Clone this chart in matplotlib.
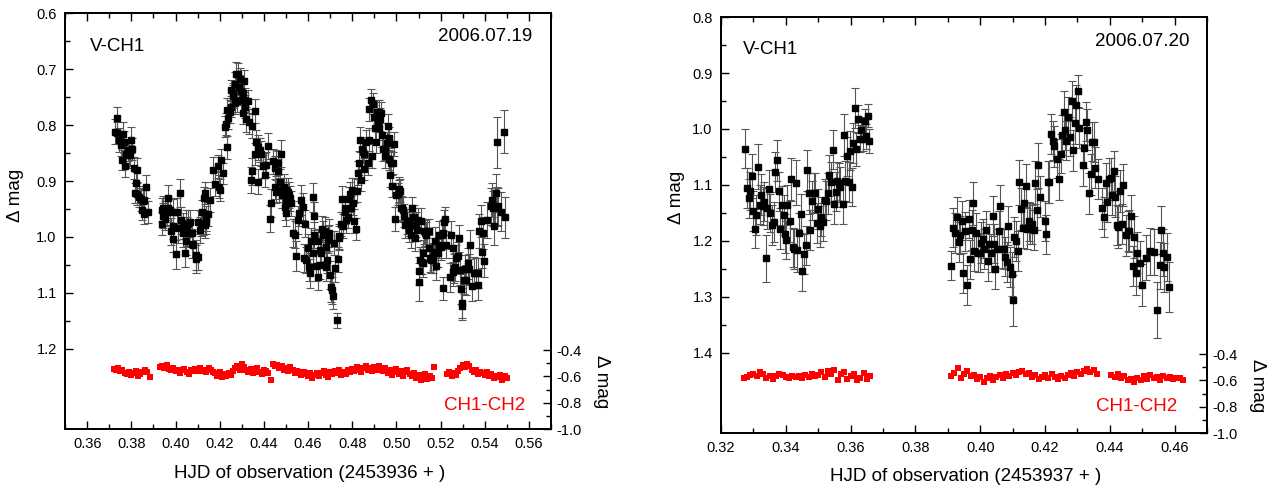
"""Two-night V-CH1 light curves with CH1-CH2 check-star differential."""

import matplotlib

matplotlib.use("Agg")

import matplotlib.pyplot as plt
import numpy as np
from matplotlib.ticker import FixedLocator, FormatStrFormatter, MultipleLocator

plt.rcParams["font.family"] = ["Liberation Sans", "DejaVu Sans"]

# ── Night 1: 2006.07.19, (HJD - 2453936, V-CH1, error) ───────────────────────
day1_var = [
    (0.3737, 0.788, 0.020), (0.3726, 0.812, 0.022), (0.3734, 0.814, 0.020), (0.3745, 0.827, 0.021),
    (0.3752, 0.836, 0.019), (0.3761, 0.816, 0.022), (0.3767, 0.830, 0.020), (0.3757, 0.862, 0.018),
    (0.3772, 0.874, 0.019), (0.3776, 0.851, 0.021), (0.3784, 0.845, 0.020), (0.3791, 0.854, 0.022),
    (0.3797, 0.827, 0.023), (0.3802, 0.843, 0.020), (0.3794, 0.854, 0.019), (0.3812, 0.877, 0.020),
    (0.3824, 0.880, 0.021), (0.3821, 0.903, 0.019), (0.3865, 0.910, 0.020), (0.3817, 0.922, 0.018),
    (0.3827, 0.923, 0.020), (0.3836, 0.928, 0.019), (0.3842, 0.933, 0.021), (0.3851, 0.935, 0.020),
    (0.3859, 0.934, 0.018), (0.3850, 0.951, 0.019), (0.3874, 0.955, 0.020), (0.3857, 0.959, 0.018),
    (0.3967, 0.930, 0.022), (0.4020, 0.922, 0.025), (0.3937, 0.951, 0.021), (0.3945, 0.949, 0.023),
    (0.3952, 0.958, 0.022), (0.3960, 0.955, 0.024), (0.3967, 0.949, 0.021), (0.3975, 0.952, 0.022),
    (0.3990, 0.956, 0.023), (0.4005, 0.955, 0.024), (0.3942, 0.962, 0.022), (0.3952, 0.967, 0.021),
    (0.3937, 0.976, 0.020), (0.3987, 0.980, 0.023), (0.3979, 0.990, 0.024), (0.4012, 0.984, 0.026),
    (0.4027, 0.970, 0.024), (0.4035, 0.980, 0.023), (0.4047, 0.976, 0.025), (0.4058, 0.976, 0.024),
    (0.4065, 0.974, 0.022), (0.4053, 0.990, 0.026), (0.4073, 0.993, 0.024), (0.4062, 0.993, 0.025),
    (0.4032, 0.993, 0.024), (0.3990, 1.004, 0.022), (0.4046, 1.007, 0.025), (0.4073, 1.012, 0.026),
    (0.4080, 1.014, 0.024), (0.4002, 1.031, 0.026), (0.4042, 1.028, 0.025), (0.4095, 1.032, 0.027),
    (0.4091, 1.040, 0.025), (0.4100, 1.035, 0.024), (0.4110, 0.987, 0.023), (0.4118, 0.956, 0.022),
    (0.4125, 0.976, 0.021), (0.4133, 0.978, 0.023), (0.4140, 0.967, 0.022), (0.4137, 0.974, 0.020),
    (0.4148, 0.959, 0.021), (0.4104, 0.973, 0.022), (0.4115, 0.976, 0.023),
    (0.4128, 0.931, 0.021), (0.4133, 0.921, 0.020), (0.4155, 0.934, 0.022), (0.4178, 0.905, 0.021),
    (0.4170, 0.880, 0.022), (0.4200, 0.916, 0.020), (0.4193, 0.874, 0.021), (0.4208, 0.862, 0.020),
    (0.4216, 0.886, 0.019), (0.4198, 0.910, 0.021), (0.4231, 0.840, 0.020), (0.4223, 0.803, 0.019),
    (0.4228, 0.798, 0.020), (0.4238, 0.788, 0.019), (0.4235, 0.773, 0.021), (0.4246, 0.776, 0.020),
    (0.4249, 0.767, 0.019), (0.4258, 0.749, 0.020), (0.4253, 0.738, 0.019), (0.4268, 0.726, 0.020),
    (0.4261, 0.743, 0.018), (0.4276, 0.708, 0.020), (0.4283, 0.708, 0.019), (0.4288, 0.732, 0.021),
    (0.4291, 0.718, 0.020), (0.4298, 0.740, 0.019), (0.4306, 0.743, 0.021), (0.4309, 0.721, 0.020),
    (0.4313, 0.755, 0.022), (0.4316, 0.767, 0.020), (0.4328, 0.758, 0.021), (0.4321, 0.790, 0.023),
    (0.4333, 0.794, 0.022), (0.4348, 0.802, 0.021), (0.4306, 0.779, 0.020), (0.4280, 0.758, 0.019),
    (0.4268, 0.761, 0.020), (0.4295, 0.755, 0.021), (0.4359, 0.775, 0.022),
    (0.4366, 0.830, 0.021), (0.4374, 0.840, 0.022), (0.4359, 0.852, 0.020), (0.4381, 0.845, 0.021),
    (0.4389, 0.851, 0.022), (0.4404, 0.871, 0.021), (0.4396, 0.874, 0.020), (0.4411, 0.871, 0.022),
    (0.4419, 0.837, 0.023), (0.4407, 0.889, 0.021), (0.4375, 0.901, 0.022), (0.4344, 0.883, 0.024),
    (0.4341, 0.898, 0.023), (0.4441, 0.865, 0.022), (0.4449, 0.876, 0.021), (0.4456, 0.868, 0.023),
    (0.4464, 0.868, 0.022), (0.4479, 0.851, 0.024), (0.4449, 0.910, 0.022), (0.4456, 0.919, 0.021),
    (0.4471, 0.901, 0.023), (0.4464, 0.883, 0.022), (0.4468, 0.916, 0.021), (0.4483, 0.925, 0.024),
    (0.4490, 0.910, 0.023), (0.4502, 0.916, 0.022), (0.4509, 0.919, 0.024), (0.4514, 0.925, 0.023),
    (0.4517, 0.931, 0.022), (0.4494, 0.946, 0.024), (0.4499, 0.958, 0.023), (0.4524, 0.940, 0.022),
    (0.4502, 0.937, 0.021), (0.4434, 0.940, 0.025), (0.4429, 0.967, 0.024), (0.4554, 0.970, 0.025),
    (0.4569, 0.934, 0.026), (0.4577, 0.946, 0.024), (0.4559, 0.958, 0.023), (0.4584, 0.976, 0.024),
    (0.4532, 0.992, 0.025), (0.4539, 0.996, 0.024), (0.4547, 1.034, 0.026), (0.4580, 1.038, 0.025),
    (0.4592, 1.041, 0.024), (0.4599, 1.020, 0.026), (0.4604, 1.053, 0.025), (0.4607, 1.065, 0.026),
    (0.4622, 0.929, 0.026), (0.4629, 0.962, 0.025), (0.4614, 1.008, 0.024), (0.4629, 0.996, 0.023),
    (0.4622, 1.029, 0.025), (0.4637, 1.052, 0.026), (0.4645, 1.071, 0.024), (0.4652, 1.050, 0.025),
    (0.4660, 1.029, 0.024), (0.4645, 1.008, 0.023), (0.4667, 0.996, 0.024), (0.4675, 0.990, 0.025),
    (0.4664, 0.986, 0.023), (0.4655, 1.023, 0.024), (0.4682, 1.017, 0.025), (0.4685, 1.041, 0.024),
    (0.4679, 1.053, 0.026), (0.4690, 1.005, 0.024), (0.4697, 1.002, 0.023), (0.4694, 0.993, 0.025),
    (0.4700, 1.068, 0.025), (0.4709, 1.095, 0.024), (0.4705, 1.090, 0.026), (0.4712, 1.105, 0.024),
    (0.4717, 1.011, 0.022), (0.4724, 1.056, 0.024), (0.4735, 1.040, 0.023), (0.4730, 1.149, 0.014),
    (0.4742, 0.999, 0.022), (0.4739, 1.002, 0.021),
    (0.4750, 0.977, 0.022), (0.4757, 0.980, 0.021), (0.4754, 0.932, 0.023), (0.4765, 0.949, 0.022),
    (0.4769, 0.955, 0.021), (0.4772, 0.970, 0.022), (0.4780, 0.964, 0.020), (0.4784, 0.933, 0.022),
    (0.4790, 0.923, 0.021), (0.4795, 0.949, 0.022), (0.4800, 0.916, 0.021), (0.4803, 0.940, 0.020),
    (0.4810, 0.917, 0.022), (0.4806, 0.971, 0.021), (0.4815, 0.986, 0.020), (0.4821, 0.917, 0.021),
    (0.4825, 0.886, 0.022), (0.4830, 0.868, 0.021), (0.4836, 0.826, 0.022), (0.4840, 0.898, 0.020),
    (0.4845, 0.843, 0.021), (0.4848, 0.848, 0.020), (0.4855, 0.851, 0.022), (0.4863, 0.830, 0.021),
    (0.4855, 0.879, 0.020), (0.4870, 0.868, 0.021), (0.4875, 0.826, 0.020), (0.4878, 0.772, 0.021),
    (0.4885, 0.755, 0.020), (0.4893, 0.762, 0.019), (0.4890, 0.855, 0.021), (0.4900, 0.785, 0.020),
    (0.4905, 0.805, 0.021), (0.4911, 0.776, 0.020), (0.4915, 0.794, 0.019), (0.4923, 0.776, 0.020),
    (0.4920, 0.806, 0.021), (0.4927, 0.790, 0.020), (0.4935, 0.818, 0.021), (0.4908, 0.830, 0.020),
    (0.4930, 0.778, 0.019), (0.4941, 0.843, 0.021), (0.4946, 0.856, 0.020), (0.4950, 0.842, 0.021),
    (0.4956, 0.833, 0.020), (0.4961, 0.802, 0.022), (0.4968, 0.824, 0.021), (0.4965, 0.861, 0.020),
    (0.4976, 0.867, 0.021), (0.4983, 0.868, 0.020), (0.4991, 0.834, 0.022), (0.4971, 0.889, 0.021),
    (0.4980, 0.909, 0.020), (0.4995, 0.968, 0.022),
    (0.4998, 0.925, 0.021), (0.5006, 0.923, 0.020), (0.5010, 0.915, 0.022), (0.5013, 0.919, 0.021),
    (0.5016, 0.917, 0.020), (0.5021, 0.949, 0.022), (0.5025, 0.949, 0.021), (0.5031, 0.951, 0.022),
    (0.5036, 0.962, 0.021), (0.5040, 0.978, 0.023), (0.5046, 0.972, 0.022), (0.5055, 0.977, 0.021),
    (0.5058, 0.987, 0.022), (0.5066, 0.996, 0.023), (0.5070, 0.949, 0.021), (0.5073, 0.964, 0.022),
    (0.5081, 0.964, 0.021), (0.5085, 1.002, 0.023), (0.5088, 0.978, 0.022), (0.5092, 0.987, 0.021),
    (0.5096, 0.970, 0.022), (0.5100, 1.060, 0.025), (0.5104, 1.080, 0.034), (0.5107, 1.041, 0.024),
    (0.5111, 0.971, 0.022), (0.5116, 1.044, 0.023), (0.5119, 1.047, 0.024), (0.5122, 1.029, 0.023),
    (0.5126, 0.990, 0.022), (0.5131, 0.993, 0.023), (0.5134, 0.996, 0.022), (0.5138, 0.990, 0.023),
    (0.5146, 1.020, 0.024), (0.5149, 0.990, 0.023), (0.5152, 1.038, 0.024), (0.5156, 1.041, 0.023),
    (0.5164, 1.035, 0.024), (0.5167, 1.041, 0.023), (0.5171, 1.026, 0.024), (0.5176, 1.008, 0.025),
    (0.5179, 1.052, 0.024), (0.5186, 1.029, 0.025), (0.5191, 0.996, 0.024), (0.5194, 1.014, 0.023),
    (0.5201, 1.017, 0.024), (0.5206, 0.996, 0.025), (0.5209, 1.092, 0.020), (0.5212, 0.993, 0.024),
    (0.5216, 0.974, 0.023), (0.5221, 0.968, 0.022), (0.5224, 1.014, 0.024),
    (0.5242, 1.072, 0.026), (0.5247, 0.996, 0.025), (0.5254, 1.020, 0.024), (0.5257, 1.062, 0.025),
    (0.5262, 1.056, 0.026), (0.5266, 1.053, 0.025), (0.5269, 1.038, 0.024), (0.5277, 1.034, 0.025),
    (0.5281, 1.002, 0.024), (0.5287, 1.059, 0.026), (0.5292, 1.093, 0.027), (0.5295, 1.124, 0.025),
    (0.5299, 1.118, 0.026), (0.5307, 1.077, 0.025), (0.5311, 1.058, 0.026), (0.5317, 1.077, 0.027),
    (0.5322, 1.047, 0.028), (0.5329, 1.058, 0.027), (0.5334, 1.014, 0.026), (0.5344, 1.088, 0.027),
    (0.5352, 1.064, 0.028), (0.5359, 1.064, 0.027), (0.5367, 1.085, 0.028), (0.5371, 1.064, 0.027),
    (0.5374, 0.989, 0.030), (0.5382, 0.971, 0.029), (0.5386, 1.026, 0.030), (0.5392, 0.993, 0.029),
    (0.5397, 1.042, 0.030),
    (0.5412, 0.970, 0.032), (0.5432, 0.934, 0.031), (0.5427, 0.945, 0.033), (0.5435, 0.949, 0.032),
    (0.5442, 0.980, 0.034), (0.5447, 0.945, 0.033), (0.5450, 0.922, 0.034), (0.5457, 0.946, 0.035),
    (0.5462, 0.945, 0.033), (0.5472, 0.955, 0.035), (0.5457, 0.831, 0.046), (0.5486, 0.812, 0.038),
    (0.5492, 0.965, 0.036),
]

# (HJD - 2453936, CH1-CH2)
day1_cmp = [
    (0.3720, -0.545), (0.3730, -0.552), (0.3740, -0.538), (0.3750, -0.560), (0.3760, -0.548),
    (0.3770, -0.572), (0.3780, -0.585), (0.3790, -0.565), (0.3800, -0.590), (0.3810, -0.575),
    (0.3820, -0.558), (0.3830, -0.595), (0.3840, -0.580), (0.3850, -0.565), (0.3860, -0.550),
    (0.3870, -0.570), (0.3885, -0.605),
    (0.393, -0.530), (0.394, -0.520), (0.395, -0.538), (0.396, -0.515), (0.397, -0.545),
    (0.398, -0.552), (0.399, -0.540), (0.400, -0.560), (0.401, -0.548), (0.402, -0.572),
    (0.403, -0.555), (0.404, -0.541), (0.405, -0.566), (0.406, -0.580), (0.407, -0.550),
    (0.408, -0.562), (0.409, -0.545), (0.410, -0.556), (0.411, -0.535), (0.412, -0.560),
    (0.413, -0.548), (0.414, -0.570), (0.415, -0.540), (0.416, -0.552), (0.417, -0.565),
    (0.418, -0.578), (0.419, -0.595), (0.420, -0.570), (0.421, -0.602), (0.422, -0.585),
    (0.423, -0.596), (0.424, -0.572), (0.425, -0.588), (0.426, -0.560), (0.427, -0.540),
    (0.428, -0.525), (0.429, -0.548), (0.430, -0.505), (0.431, -0.530), (0.432, -0.552),
    (0.433, -0.568), (0.434, -0.545), (0.435, -0.575), (0.436, -0.558), (0.437, -0.540),
    (0.438, -0.566), (0.439, -0.580), (0.440, -0.552), (0.441, -0.560), (0.442, -0.575),
    (0.443, -0.628), (0.444, -0.505), (0.445, -0.520), (0.446, -0.512), (0.447, -0.538),
    (0.448, -0.525), (0.449, -0.555), (0.450, -0.540), (0.451, -0.562), (0.452, -0.530),
    (0.453, -0.548), (0.454, -0.575), (0.455, -0.556), (0.456, -0.570), (0.457, -0.590),
    (0.458, -0.565), (0.459, -0.585), (0.460, -0.600), (0.461, -0.572), (0.462, -0.610),
    (0.463, -0.590), (0.464, -0.578), (0.465, -0.598), (0.466, -0.575), (0.467, -0.560),
    (0.468, -0.590), (0.469, -0.605), (0.470, -0.570), (0.471, -0.585), (0.472, -0.558),
    (0.473, -0.575), (0.474, -0.548), (0.475, -0.590), (0.476, -0.565), (0.477, -0.580),
    (0.478, -0.552), (0.479, -0.570), (0.480, -0.545), (0.481, -0.560), (0.482, -0.530),
    (0.483, -0.552), (0.484, -0.570), (0.485, -0.540), (0.486, -0.525), (0.487, -0.555),
    (0.488, -0.538), (0.489, -0.562), (0.490, -0.530), (0.491, -0.548), (0.492, -0.520),
    (0.493, -0.545), (0.494, -0.560), (0.495, -0.535), (0.496, -0.575), (0.497, -0.550),
    (0.498, -0.590), (0.499, -0.565), (0.500, -0.545), (0.501, -0.580), (0.502, -0.560),
    (0.503, -0.595), (0.504, -0.570), (0.505, -0.548), (0.506, -0.585), (0.507, -0.600),
    (0.508, -0.575), (0.509, -0.615), (0.510, -0.590), (0.511, -0.630), (0.512, -0.605),
    (0.513, -0.580), (0.514, -0.620), (0.515, -0.595), (0.516, -0.610), (0.517, -0.530),
    (0.523, -0.580), (0.524, -0.565), (0.525, -0.595), (0.526, -0.572), (0.527, -0.588),
    (0.528, -0.560), (0.529, -0.540), (0.530, -0.515), (0.531, -0.530), (0.532, -0.505),
    (0.533, -0.525), (0.534, -0.548), (0.535, -0.570), (0.536, -0.555), (0.537, -0.585),
    (0.538, -0.565), (0.539, -0.578), (0.540, -0.590), (0.541, -0.570), (0.542, -0.600),
    (0.543, -0.582), (0.544, -0.615), (0.545, -0.595), (0.546, -0.605), (0.547, -0.588),
    (0.548, -0.625), (0.549, -0.600), (0.550, -0.612),
]

# ── Night 2: 2006.07.20, (HJD - 2453937, V-CH1, error) ───────────────────────
day2_var = [
    (0.3274, 1.035, 0.035), (0.3280, 1.106, 0.036), (0.3285, 1.124, 0.035), (0.3290, 1.111, 0.034),
    (0.3295, 1.084, 0.040), (0.3300, 1.146, 0.036), (0.3305, 1.178, 0.035), (0.3308, 1.153, 0.036),
    (0.3314, 1.067, 0.040), (0.3319, 1.135, 0.035), (0.3324, 1.117, 0.036), (0.3328, 1.138, 0.034),
    (0.3333, 1.130, 0.035), (0.3339, 1.231, 0.042), (0.3341, 1.142, 0.036), (0.3347, 1.108, 0.035),
    (0.3352, 1.150, 0.034), (0.3357, 1.171, 0.036), (0.3362, 1.166, 0.035), (0.3367, 1.077, 0.036),
    (0.3372, 1.056, 0.037), (0.3378, 1.111, 0.035), (0.3383, 1.178, 0.036), (0.3388, 1.136, 0.035),
    (0.3393, 1.154, 0.036), (0.3398, 1.187, 0.035), (0.3401, 1.199, 0.034), (0.3405, 1.136, 0.036),
    (0.3412, 1.164, 0.037), (0.3417, 1.090, 0.038), (0.3422, 1.211, 0.035), (0.3426, 1.214, 0.036),
    (0.3431, 1.096, 0.040), (0.3434, 1.217, 0.038), (0.3442, 1.186, 0.036), (0.3447, 1.151, 0.035),
    (0.3450, 1.254, 0.035), (0.3457, 1.223, 0.036), (0.3461, 1.208, 0.035), (0.3466, 1.074, 0.036),
    (0.3471, 1.115, 0.037), (0.3476, 1.180, 0.036), (0.3481, 1.128, 0.035), (0.3486, 1.114, 0.036),
    (0.3491, 1.114, 0.035), (0.3496, 1.168, 0.036), (0.3500, 1.143, 0.035), (0.3504, 1.174, 0.036),
    (0.3510, 1.157, 0.035), (0.3515, 1.166, 0.034), (0.3520, 1.126, 0.036), (0.3524, 1.128, 0.035),
    (0.3530, 1.115, 0.036), (0.3534, 1.083, 0.037), (0.3540, 1.095, 0.036), (0.3545, 1.037, 0.035),
    (0.3550, 1.134, 0.036), (0.3555, 1.112, 0.035), (0.3558, 1.093, 0.034), (0.3563, 1.096, 0.035),
    (0.3568, 1.104, 0.036), (0.3575, 1.134, 0.035), (0.3579, 1.011, 0.037), (0.3584, 1.093, 0.036),
    (0.3589, 1.049, 0.035), (0.3594, 1.095, 0.036), (0.3599, 1.039, 0.035), (0.3604, 1.104, 0.034),
    (0.3608, 1.025, 0.035), (0.3613, 0.962, 0.036), (0.3618, 1.036, 0.030), (0.3623, 0.982, 0.025),
    (0.3628, 1.017, 0.024), (0.3632, 1.001, 0.023), (0.3638, 1.017, 0.022), (0.3643, 0.986, 0.021),
    (0.3648, 1.013, 0.022), (0.3652, 0.976, 0.020), (0.3657, 1.021, 0.021),
    (0.3909, 1.244, 0.026), (0.3917, 1.176, 0.035), (0.3921, 1.186, 0.036), (0.3928, 1.157, 0.035),
    (0.3933, 1.202, 0.036), (0.3938, 1.190, 0.034), (0.3943, 1.164, 0.035), (0.3947, 1.257, 0.036),
    (0.3953, 1.183, 0.035), (0.3958, 1.279, 0.036), (0.3964, 1.160, 0.034), (0.3968, 1.233, 0.035),
    (0.3973, 1.180, 0.036), (0.3978, 1.133, 0.038), (0.3982, 1.218, 0.035), (0.3988, 1.186, 0.036),
    (0.3994, 1.221, 0.035), (0.3998, 1.221, 0.034), (0.4002, 1.203, 0.036), (0.4007, 1.196, 0.035),
    (0.4012, 1.214, 0.036), (0.4017, 1.181, 0.035), (0.4023, 1.236, 0.036), (0.4028, 1.205, 0.035),
    (0.4032, 1.222, 0.034), (0.4038, 1.156, 0.036), (0.4041, 1.205, 0.035), (0.4046, 1.250, 0.036),
    (0.4051, 1.214, 0.035), (0.4057, 1.182, 0.036), (0.4062, 1.138, 0.038), (0.4066, 1.214, 0.035),
    (0.4072, 1.214, 0.036), (0.4076, 1.228, 0.035), (0.4081, 1.237, 0.036), (0.4086, 1.173, 0.035),
    (0.4092, 1.246, 0.036), (0.4097, 1.259, 0.040), (0.4101, 1.306, 0.045), (0.4105, 1.193, 0.036),
    (0.4110, 1.200, 0.035), (0.4116, 1.218, 0.036), (0.4121, 1.095, 0.040), (0.4126, 1.143, 0.038),
    (0.4131, 1.177, 0.036), (0.4135, 1.133, 0.037), (0.4140, 1.101, 0.038), (0.4144, 1.178, 0.036),
    (0.4149, 1.165, 0.035), (0.4155, 1.169, 0.036), (0.4160, 1.170, 0.035), (0.4165, 1.180, 0.036),
    (0.4170, 1.096, 0.038), (0.4174, 1.144, 0.036), (0.4179, 1.065, 0.040), (0.4185, 1.121, 0.037),
    (0.4199, 1.164, 0.036), (0.4203, 1.188, 0.035), (0.4208, 1.095, 0.038), (0.4212, 1.095, 0.037),
    (0.4218, 1.009, 0.036), (0.4223, 1.021, 0.035), (0.4228, 1.031, 0.036), (0.4237, 1.053, 0.035),
    (0.4242, 1.090, 0.036), (0.4248, 1.044, 0.035), (0.4253, 1.011, 0.036), (0.4257, 0.970, 0.037),
    (0.4261, 1.001, 0.036), (0.4266, 1.021, 0.035), (0.4271, 0.979, 0.036), (0.4276, 1.014, 0.035),
    (0.4282, 0.950, 0.036), (0.4286, 1.038, 0.037), (0.4291, 0.990, 0.036), (0.4296, 0.957, 0.035),
    (0.4301, 0.932, 0.028), (0.4306, 0.998, 0.036), (0.4317, 1.064, 0.037), (0.4321, 1.034, 0.036),
    (0.4325, 0.987, 0.035), (0.4330, 1.001, 0.036), (0.4335, 1.115, 0.037), (0.4341, 1.081, 0.036),
    (0.4346, 1.023, 0.035), (0.4350, 1.023, 0.036), (0.4355, 1.069, 0.037), (0.4364, 1.089, 0.036),
    (0.4377, 1.142, 0.037), (0.4382, 1.157, 0.036), (0.4387, 1.096, 0.035), (0.4392, 1.130, 0.036),
    (0.4397, 1.089, 0.037), (0.4402, 1.087, 0.036), (0.4407, 1.118, 0.035), (0.4412, 1.075, 0.036),
    (0.4416, 1.121, 0.037), (0.4422, 1.172, 0.036), (0.4426, 1.175, 0.038), (0.4431, 1.111, 0.037),
    (0.4436, 1.170, 0.036), (0.4442, 1.100, 0.038), (0.4451, 1.190, 0.037), (0.4456, 1.182, 0.036),
    (0.4460, 1.182, 0.037), (0.4465, 1.155, 0.038), (0.4470, 1.245, 0.036), (0.4476, 1.193, 0.037),
    (0.4481, 1.258, 0.038), (0.4485, 1.221, 0.037), (0.4494, 1.240, 0.040), (0.4500, 1.279, 0.038),
    (0.4510, 1.230, 0.040), (0.4525, 1.218, 0.042), (0.4535, 1.219, 0.041), (0.4545, 1.324, 0.050),
    (0.4555, 1.243, 0.042), (0.4559, 1.180, 0.043), (0.4563, 1.221, 0.042), (0.4568, 1.247, 0.044),
    (0.4575, 1.228, 0.043), (0.4583, 1.282, 0.045),
]

# (HJD - 2453937, CH1-CH2)
day2_cmp = [
    (0.327, -0.585), (0.328, -0.575), (0.329, -0.560), (0.330, -0.548), (0.331, -0.570),
    (0.332, -0.540), (0.333, -0.555), (0.334, -0.580), (0.335, -0.565), (0.336, -0.590),
    (0.337, -0.570), (0.338, -0.548), (0.339, -0.560), (0.340, -0.575), (0.341, -0.582),
    (0.342, -0.565), (0.343, -0.578), (0.344, -0.570), (0.345, -0.585), (0.346, -0.560),
    (0.347, -0.575), (0.348, -0.550), (0.349, -0.568), (0.350, -0.560), (0.351, -0.540),
    (0.352, -0.572), (0.353, -0.530), (0.354, -0.555), (0.355, -0.525), (0.356, -0.600),
    (0.357, -0.548), (0.358, -0.535), (0.359, -0.590), (0.360, -0.570), (0.361, -0.555),
    (0.362, -0.600), (0.363, -0.580), (0.364, -0.545), (0.365, -0.590), (0.366, -0.565),
    (0.391, -0.565), (0.392, -0.545), (0.393, -0.505), (0.394, -0.580), (0.395, -0.555),
    (0.396, -0.530), (0.397, -0.570), (0.398, -0.560), (0.399, -0.590), (0.400, -0.575),
    (0.401, -0.612), (0.402, -0.585), (0.403, -0.565), (0.404, -0.595), (0.405, -0.578),
    (0.406, -0.560), (0.407, -0.585), (0.408, -0.550), (0.409, -0.570), (0.410, -0.545),
    (0.411, -0.562), (0.412, -0.540), (0.413, -0.530), (0.414, -0.555), (0.415, -0.545),
    (0.416, -0.575), (0.417, -0.560), (0.418, -0.590), (0.419, -0.575), (0.420, -0.560),
    (0.421, -0.585), (0.422, -0.550), (0.423, -0.575), (0.424, -0.590), (0.425, -0.565),
    (0.426, -0.580), (0.427, -0.560), (0.428, -0.545), (0.429, -0.570), (0.430, -0.540),
    (0.431, -0.555), (0.432, -0.530), (0.433, -0.510), (0.434, -0.535), (0.435, -0.520),
    (0.436, -0.550),
    (0.4405, -0.560), (0.4415, -0.575), (0.4425, -0.555), (0.4435, -0.585), (0.4445, -0.570),
    (0.4455, -0.600), (0.4465, -0.590), (0.4475, -0.615), (0.4485, -0.580), (0.4495, -0.600),
    (0.4505, -0.570), (0.4515, -0.590), (0.4525, -0.560), (0.4535, -0.585), (0.4545, -0.575),
    (0.4555, -0.595), (0.4565, -0.570), (0.4575, -0.585), (0.4585, -0.575), (0.4595, -0.590),
    (0.4605, -0.580), (0.4615, -0.585), (0.4625, -0.600),
]

dates = ["2006.07.19", "2006.07.20"]
hjd_zero = ["2453936", "2453937"]
x_limits = [(0.35, 0.57), (0.32, 0.47)]
y_limits = [(1.343, 0.6), (1.543, 0.8)]
y_ticks = [[0.6, 0.7, 0.8, 0.9, 1.0, 1.1, 1.2], [0.8, 0.9, 1.0, 1.1, 1.2, 1.3, 1.4]]
cmp_ticks = [-1.0, -0.8, -0.6, -0.4]
cmp_minor = [-0.9, -0.7, -0.5]

LABEL_SIZE = 13.5
TICK_SIZE = 10.5


def draw_panel(fig, rect, var, cmp, idx, lab_x, txt_pos):
    ax = fig.add_axes(rect)
    hjd, mag, err = np.array(var).T
    ax.errorbar(
        hjd, mag, yerr=err, fmt="s", ms=4.2, mfc="black", mec="black",
        ecolor="#555555", elinewidth=0.8, capsize=3, capthick=0.8, zorder=3,
    )
    ax.set_xlim(*x_limits[idx])
    ax.set_ylim(*y_limits[idx])
    ax.xaxis.set_major_locator(MultipleLocator(0.02))
    ax.xaxis.set_minor_locator(MultipleLocator(0.01))
    ax.xaxis.set_major_formatter(FormatStrFormatter("%.2f"))
    ticks = y_ticks[idx]
    ax.yaxis.set_major_locator(FixedLocator(ticks))
    ax.yaxis.set_minor_locator(FixedLocator([t + 0.05 for t in ticks[:-1]]))
    ax.yaxis.set_major_formatter(FormatStrFormatter("%.1f"))
    ax.tick_params(which="both", direction="in", top=True, right=False, width=1,
                   labelsize=TICK_SIZE, pad=6)
    ax.tick_params(which="major", length=6)
    ax.tick_params(which="minor", length=3.5)
    for sp in ax.spines.values():
        sp.set_linewidth(1.3)

    ax2 = ax.twinx()
    chjd, cmag = np.array(cmp).T
    ax2.plot(chjd, cmag, "s", color="#ff0000", ms=4.3, mew=0, zorder=2)
    ax2.set_ylim(-1.0, 2.16)
    ax2.yaxis.set_major_locator(FixedLocator(cmp_ticks))
    ax2.yaxis.set_minor_locator(FixedLocator(cmp_minor))
    ax2.yaxis.set_major_formatter(FormatStrFormatter("%.1f"))
    ax2.tick_params(which="both", direction="in", width=1, labelsize=TICK_SIZE, pad=4)
    ax2.tick_params(which="major", length=6)
    ax2.tick_params(which="minor", length=3.5)
    for sp in ax2.spines.values():
        sp.set_linewidth(1.3)

    (vx, vy), (dx, dy), (cx, cy), (lx, ly) = txt_pos
    ax.text(vx, vy, "V-CH1", transform=ax.transAxes, fontsize=LABEL_SIZE, ha="left", va="center")
    ax.text(dx, dy, dates[idx], transform=ax.transAxes, fontsize=LABEL_SIZE, ha="right", va="center")
    ax.text(cx, cy, "CH1-CH2", transform=ax.transAxes, fontsize=LABEL_SIZE, color="#ff0000",
            ha="right", va="center")
    ax.text(lx, ly, "Δ mag", transform=ax.transAxes, fontsize=LABEL_SIZE, rotation=90,
            ha="center", va="center")
    ax.text(1.103, 0.113, "Δ mag", transform=ax.transAxes, fontsize=LABEL_SIZE, rotation=270,
            ha="center", va="center")
    ax.text(0.504, lab_x, f"HJD of observation ({hjd_zero[idx]} + )", transform=ax.transAxes,
            fontsize=LABEL_SIZE, ha="center", va="center")
    return ax


def main() -> None:
    fig = plt.figure(figsize=(12.78, 4.92), dpi=100)
    draw_panel(
        fig, [0.0509, 0.1280, 0.3803, 0.8455], day1_var, day1_cmp, 0, -0.107,
        [(0.0514, 0.919), (0.9615, 0.943), (0.947, 0.0565), (-0.102, 0.5625)],
    )
    draw_panel(
        fig, [0.5642, 0.1199, 0.3803, 0.8455], day2_var, day2_cmp, 1, -0.1046,
        [(0.0453, 0.921), (0.963, 0.942), (0.938, 0.063), (-0.0926, 0.567)],
    )
    fig.savefig("out.png", dpi=100)
    plt.close(fig)


if __name__ == "__main__":
    main()
